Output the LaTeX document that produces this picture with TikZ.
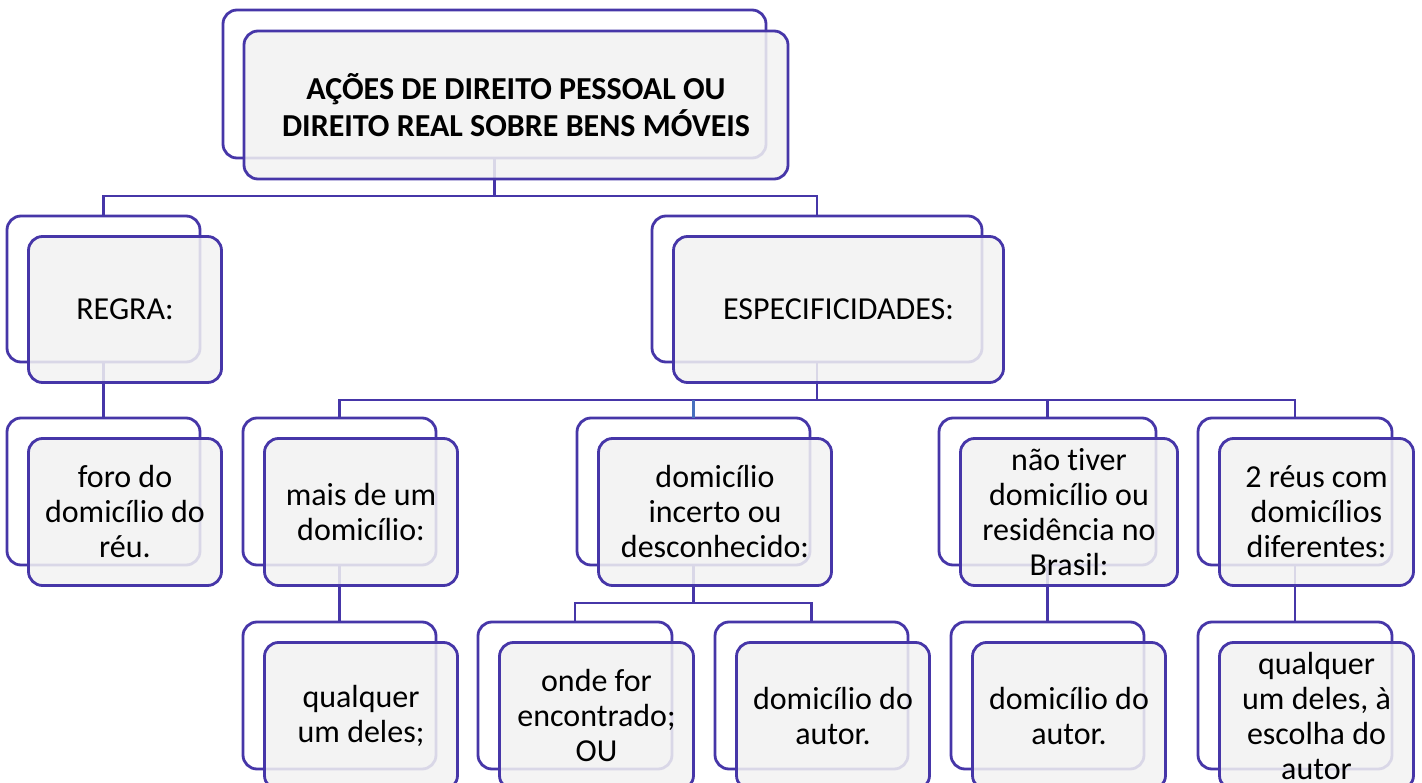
\documentclass[tikz,border=0pt]{standalone}
\usepackage{fontspec}
\setmainfont[Ligatures=NoCommon]{Carlito}
\definecolor{purp}{RGB}{70,54,168}
\definecolor{connblue}{RGB}{72,112,190}
\definecolor{frontfill}{RGB}{242,242,242}
\begin{document}
\begin{tikzpicture}[x=1pt,y=-1pt,
  backbox/.style 2 args={draw=purp, fill=white, line width=2.8pt, rounded corners=14pt,
    rectangle, minimum width=#1, minimum height=#2, inner sep=0pt, outer sep=0pt},
  frontbox/.style 2 args={draw=purp, fill=frontfill, fill opacity=0.86, text opacity=1,
    line width=2.8pt, rounded corners=14pt, rectangle, minimum width=#1, minimum height=#2,
    inner sep=0pt, outer sep=0pt, align=center, font=\fontsize{32}{35}\selectfont},
  conn/.style={draw=purp, line width=2.8pt},
  conntwo/.style={draw=connblue, line width=2.8pt}]
\useasboundingbox (0,0) rectangle (1422,783);

% back boxes
\node[backbox={543}{148}] (bTop) at (494.5,84) {};
\node[backbox={193}{146}] (bRegra) at (103.5,289) {};
\node[backbox={330}{146}] (bEsp) at (817,289) {};
\node[backbox={193}{147}] (bForo) at (103.5,491.5) {};
\node[backbox={193}{147}] (bMais) at (339.5,491.5) {};
\node[backbox={233}{147}] (bInc) at (693.5,491.5) {};
\node[backbox={217}{147}] (bNao) at (1047.5,491.5) {};
\node[backbox={194}{147}] (bReus) at (1295,491.5) {};
\node[backbox={193}{147}] (bQual) at (339.5,695.5) {};
\node[backbox={194}{147}] (bOnde) at (575,695.5) {};
\node[backbox={193}{147}] (bAut) at (811.5,695.5) {};
\node[backbox={193}{147}] (bAutB) at (1047.5,695.5) {};
\node[backbox={194}{147}] (bQualB) at (1295,695.5) {};

% connectors
\draw[conn] (bTop.south) -- ++(0,38) coordinate (topbar);
\draw[conn] (topbar) -| (bRegra.north);
\draw[conn] (topbar) -| (bEsp.north);
\draw[conn] (bRegra.south) -- (bForo.north);
\draw[conn] (bEsp.south) -- ++(0,38) coordinate (espbar);
\draw[conn] (espbar) -| (bMais.north);
\draw[conn] (espbar) -| (bReus.north);
\draw[conn] (espbar) -| (bNao.north);
\draw[conntwo] (bInc.north |- espbar) -- (bInc.north);
\draw[conn] (bMais.south) -- (bQual.north);
\draw[conn] (bInc.south) -- ++(0,38) coordinate (incbar);
\draw[conn] (incbar) -| (bOnde.north);
\draw[conn] (incbar) -| (bAut.north);
\draw[conn] (bNao.south) -- (bAutB.north);
\draw[conn] (bReus.south) -- (bQualB.north);

% front boxes
\node[frontbox={544}{148}, font=\fontsize{32}{37}\selectfont\bfseries] (fTop) at (516,105)
  {AÇÕES DE DIREITO PESSOAL OU\\DIREITO REAL SOBRE BENS MÓVEIS};
\node[frontbox={193}{146}] (fRegra) at (125,309.5) {REGRA:};
\node[frontbox={330}{146}] (fEsp) at (838.5,309.5) {ESPECIFICIDADES:};
\node[frontbox={193}{147}] (fForo) at (125,512) {foro do\\domicílio do\\réu.};
\node[frontbox={193}{147}] (fMais) at (361,512) {mais de um\\domicílio:};
\node[frontbox={233}{147}] (fInc) at (715,512) {domicílio\\incerto ou\\desconhecido:};
\node[frontbox={217}{147}] (fNao) at (1069,512) {não tiver\\domicílio ou\\residência no\\Brasil:};
\node[frontbox={194}{147}] (fReus) at (1316.5,512) {2 réus com\\domicílios\\diferentes:};
\node[frontbox={193}{147}] (fQual) at (361,716) {qualquer\\um deles;};
\node[frontbox={194}{147}] (fOnde) at (596.5,716) {onde for\\encontrado;\\OU};
\node[frontbox={193}{147}] (fAut) at (833,716) {domicílio do\\autor.};
\node[frontbox={193}{147}] (fAutB) at (1069,716) {domicílio do\\autor.};
\node[frontbox={194}{147}] (fQualB) at (1316.5,716) {qualquer\\um deles, à\\escolha do\\autor};
\end{tikzpicture}
\end{document}
